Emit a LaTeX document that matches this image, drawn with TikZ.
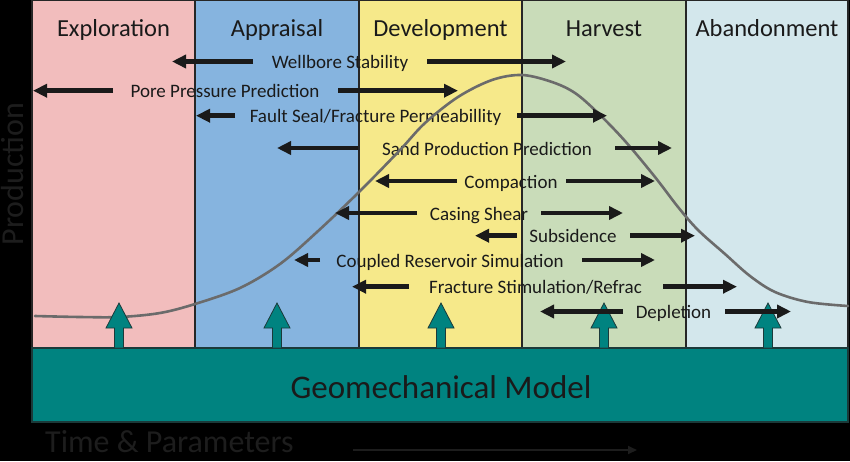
\documentclass[tikz,border=0pt]{standalone}
\usepackage{fontspec}
\setmainfont{Carlito}
\usetikzlibrary{arrows.meta}
\definecolor{cpink}{HTML}{F2BDBD}
\definecolor{cblue}{HTML}{86B4DF}
\definecolor{cyellow}{HTML}{F6E98A}
\definecolor{cgreen}{HTML}{C9DCB9}
\definecolor{clblue}{HTML}{D3E7EC}
\definecolor{cteal}{HTML}{008380}
\definecolor{ctealdark}{HTML}{1B3A3A}
\definecolor{txt}{HTML}{1A1A1A}
\definecolor{dimtxt}{HTML}{1D1D1D}
\definecolor{curvegray}{HTML}{6B6B6B}
\begin{document}
\begin{tikzpicture}[x=1pt,y=-1pt,
  panel/.style={draw=black!85, line width=1.2pt},
  hdr/.style={font=\fontsize{24.5}{26}\selectfont, text=txt, anchor=base, inner sep=0pt},
  lbl/.style={font=\fontsize{19}{21}\selectfont, text=txt, anchor=base, inner sep=0pt},
  barrow/.style={line width=4.5pt, draw=txt, -{Triangle[length=14pt,width=13pt]}},
  tealarrow/.style={fill=cteal, draw=ctealdark, line width=0.8pt},
  dimlbl/.style={font=\fontsize{32}{34}\selectfont, text=dimtxt, inner sep=0pt}
]
\useasboundingbox (0,0) rectangle (850,461);
\fill[black] (0,0) rectangle (850,461);

% phase panels
\filldraw[panel, fill=cpink]   (32,0)  rectangle (195,348);
\filldraw[panel, fill=cblue]   (195,0) rectangle (359,348);
\filldraw[panel, fill=cyellow] (359,0) rectangle (522,348);
\filldraw[panel, fill=cgreen]  (522,0) rectangle (686,348);
\filldraw[panel, fill=clblue]  (686,0) rectangle (848,348);

\node[hdr] (h1) at (113.5,36) {Exploration};
\node[hdr] (h2) at (277,36) {Appraisal};
\node[hdr] (h3) at (440.5,36) {Development};
\node[hdr] (h4) at (604,36) {Harvest};
\node[hdr] (h5) at (767,36) {Abandonment};

% labels
\node[lbl] (ws) at (340,68.5) {Wellbore Stability};
\node[lbl] (pp) at (225,97.5) {Pore Pressure Prediction};
\node[lbl] (fs) at (375.5,122.5) {Fault Seal/Fracture Permeabillity};
\node[lbl] (sp) at (487,155) {Sand Production Prediction};
\node[lbl] (co) at (511,188) {Compaction};
\node[lbl] (cs) at (479,220) {Casing Shear};
\node[lbl] (su) at (573,242.5) {Subsidence};
\node[lbl] (cr) at (450,267) {Coupled Reservoir Simulation};
\node[lbl] (fr) at (535.5,293.5) {Fracture Stimulation/Refrac};
\node[lbl] (de) at (673.5,318.5) {Depletion};

% production curve
\draw[curvegray, line width=2.6pt, line cap=round] plot[smooth, tension=0.55] coordinates {
 (35,316) (80,317) (120,317) (160,313) (195,304) (240,288) (280,264) (317,232)
 (359,192) (400,150) (425,123) (458,97) (492,80) (522,75) (552,82) (575,93)
 (598,113) (625,141) (655,177) (678,207) (698,230) (725,254) (750,276)
 (775,292) (808,302) (848,306)};

% geomechanical model
\filldraw[fill=cteal, draw=ctealdark, line width=1.2pt] (32,348) rectangle (848,422);
\node[font=\fontsize{33}{35}\selectfont, text=txt, anchor=base, inner sep=0pt] (gm) at (441,398) {Geomechanical Model};

\foreach \x in {119,277,441,604,768}{
  \filldraw[tealarrow] (\x-4.5,348) -- (\x-4.5,328) -- (\x-13,328) -- (\x,303)
     -- (\x+13,328) -- (\x+4.5,328) -- (\x+4.5,348) -- cycle;
}

% black two-sided arrows
\foreach \n/\y/\la/\lb/\ra/\rb in {
  ws/61.5/253/172/427/566,
  pp/90.7/113/33/338/458,
  fs/115.7/235/196/517/607,
  sp/148/358/277/615/672,
  co/181/457/375/566/655,
  cs/213/417/335/541/623,
  su/235.7/517/475/630/695,
  cr/260/320/294/582/655,
  fr/286.7/409/352/663/737,
  de/311.5/623/540/725/791}{
  \coordinate (\n-la) at (\la,\y);
  \coordinate (\n-lb) at (\lb,\y);
  \coordinate (\n-ra) at (\ra,\y);
  \coordinate (\n-rb) at (\rb,\y);
  \draw[barrow] (\n-la) -- (\n-lb);
  \draw[barrow] (\n-ra) -- (\n-rb);
}

% axes labels
\node[dimlbl, rotate=90, anchor=base] (prod) at (23,174) {Production};
\node[dimlbl, anchor=base west] (tp) at (45,452.5) {Time \& Parameters};
\coordinate (ta) at (353,450);
\coordinate (tb) at (637,450);
\draw[dimtxt, line width=1.8pt, -{Triangle[length=9pt,width=8pt]}] (ta) -- (tb);
\end{tikzpicture}
\end{document}
